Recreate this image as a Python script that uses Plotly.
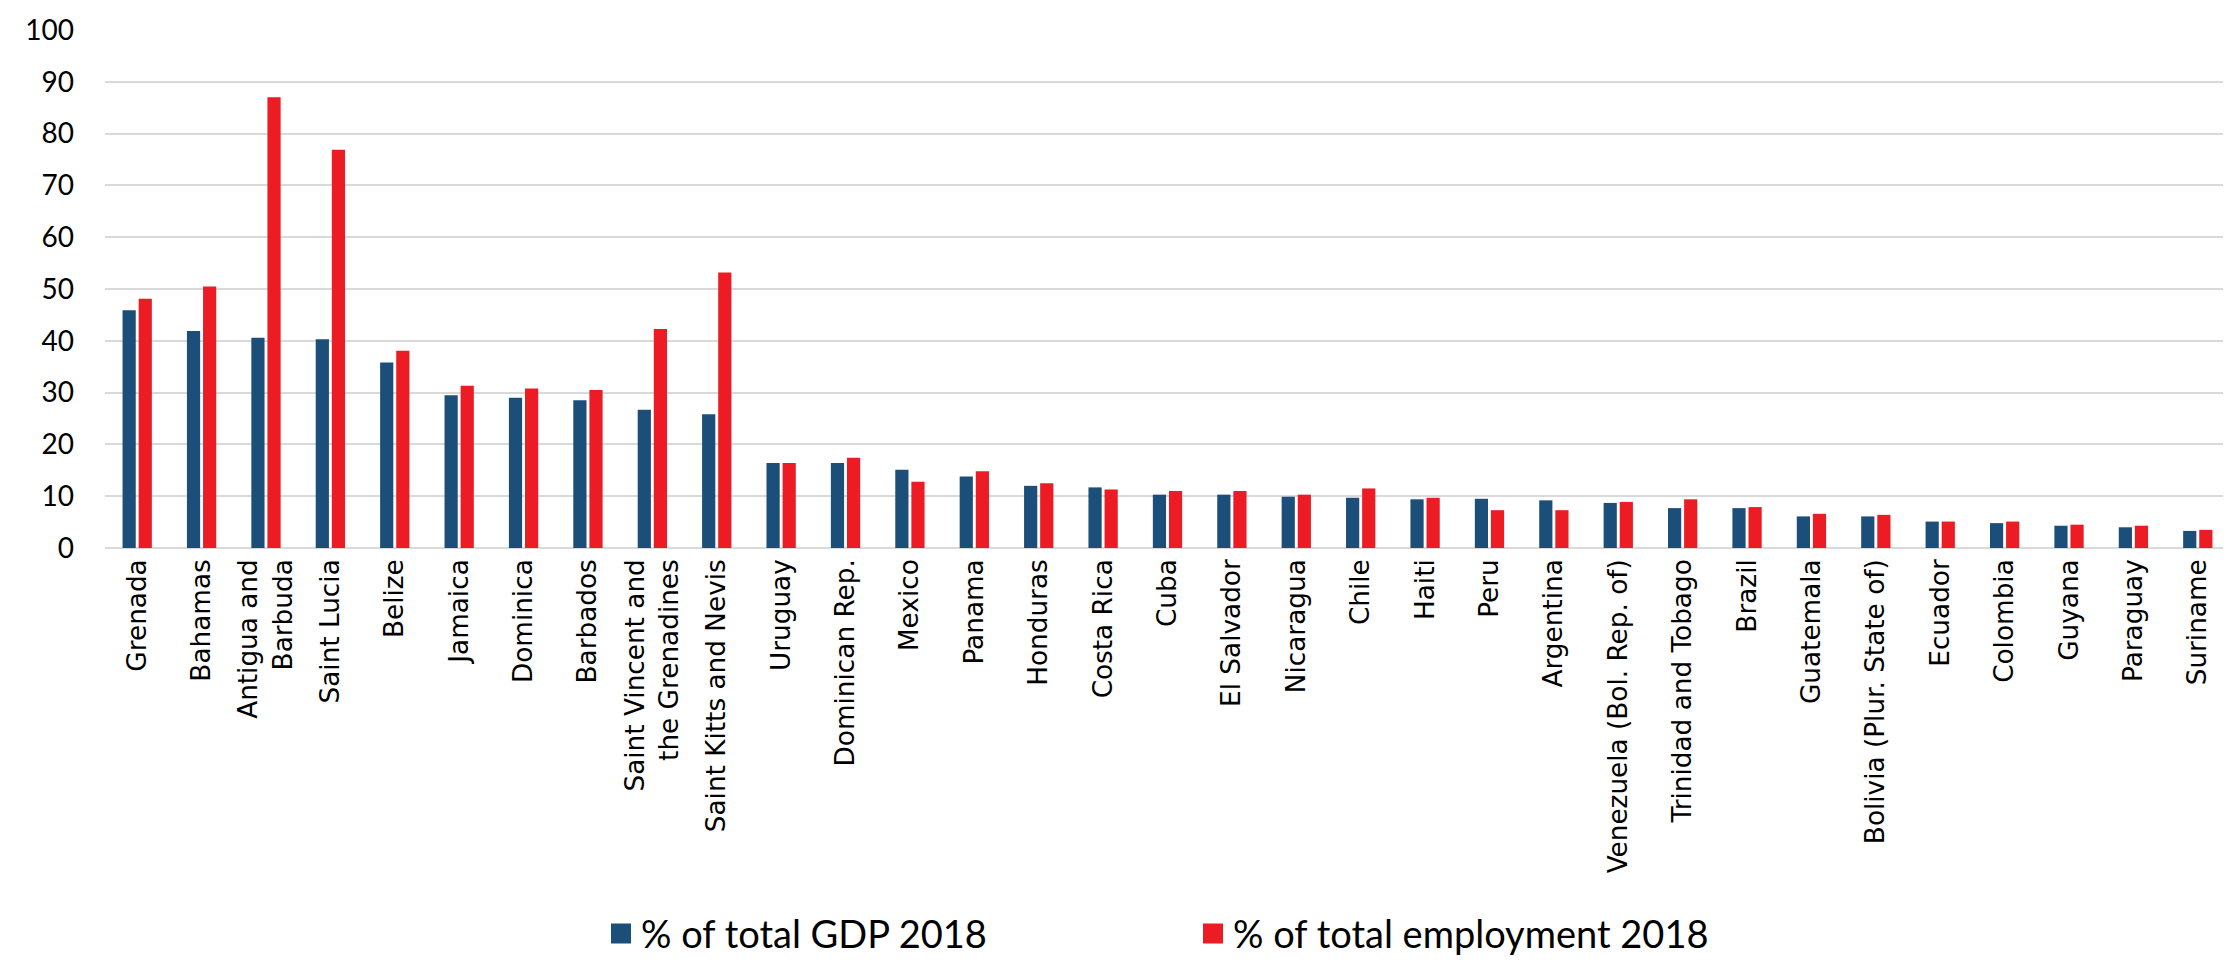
import plotly.graph_objects as go

countries = ["Grenada", "Bahamas", "Antigua and<br>Barbuda", "Saint Lucia", "Belize", "Jamaica",
             "Dominica", "Barbados", "Saint Vincent and<br>the Grenadines", "Saint Kitts and Nevis",
             "Uruguay", "Dominican Rep.", "Mexico", "Panama", "Honduras", "Costa Rica", "Cuba",
             "El Salvador", "Nicaragua", "Chile", "Haiti", "Peru", "Argentina",
             "Venezuela (Bol. Rep. of)", "Trinidad and Tobago", "Brazil", "Guatemala",
             "Bolivia (Plur. State of)", "Ecuador", "Colombia", "Guyana", "Paraguay", "Suriname"]

gdp_2018 = [45.9, 41.9, 40.6, 40.3, 35.8, 29.5, 29.0, 28.5, 26.7, 25.8,
            16.4, 16.4, 15.1, 13.8, 12.0, 11.7, 10.3, 10.3, 9.9, 9.7,
            9.4, 9.5, 9.2, 8.7, 7.7, 7.7, 6.1, 6.1, 5.1, 4.8, 4.3, 4.0, 3.3]

employment_2018 = [48.1, 50.5, 87.0, 76.9, 38.1, 31.3, 30.8, 30.5, 42.3, 53.2,
                   16.4, 17.4, 12.8, 14.8, 12.5, 11.3, 11.0, 11.0, 10.3, 11.5,
                   9.7, 7.3, 7.3, 8.9, 9.4, 7.9, 6.6, 6.4, 5.1, 5.1, 4.5, 4.3, 3.5]

series_names = ["% of total GDP 2018", "% of total employment 2018"]
series_colors = ["#1B4F7A", "#ED1C24"]
y_ticks = [0, 10, 20, 30, 40, 50, 60, 70, 80, 90, 100]

fig = go.Figure()
for name, vals, col in zip(series_names, [gdp_2018, employment_2018], series_colors):
    fig.add_trace(go.Bar(x=countries, y=vals, name=name, showlegend=False,
                         marker=dict(color=col, line=dict(width=0))))
# legend-only entries with larger square swatches
for name, col in zip(series_names, series_colors):
    fig.add_trace(go.Scatter(x=[None], y=[None], mode="markers", name=name, showlegend=True,
                             hoverinfo="skip",
                             marker=dict(symbol="square", size=16, color=col,
                                         line=dict(color=col, width=4))))

fig.update_layout(
    width=2231, height=966,
    margin=dict(l=97, r=9, t=22, b=416),
    paper_bgcolor="white", plot_bgcolor="white",
    barmode="group", bargap=0.5, bargroupgap=0.18,
    showlegend=True,
    legend=dict(orientation="h", x=0.512, xanchor="center", y=-0.745, yanchor="middle",
                font=dict(family="Lato", size=38, color="#000000"),
                entrywidth=547, entrywidthmode="pixels", itemsizing="trace"),
    xaxis=dict(tickangle=-90, tickfont=dict(family="DejaVu Sans", size=26.3, color="#000000"),
               ticklabelstandoff=5,
               showgrid=False, showline=False, ticks="", zeroline=False, automargin=False),
    yaxis=dict(range=[0, 100], tickvals=y_ticks, ticks="", ticklabelstandoff=30,
               tickfont=dict(family="Lato", size=28, color="#000000"),
               showgrid=True, gridcolor="#D9D9D9", gridwidth=2, automargin=False,
               zeroline=True, zerolinecolor="#D9D9D9", zerolinewidth=2, showline=False),
)

fig.write_html("out.html")
